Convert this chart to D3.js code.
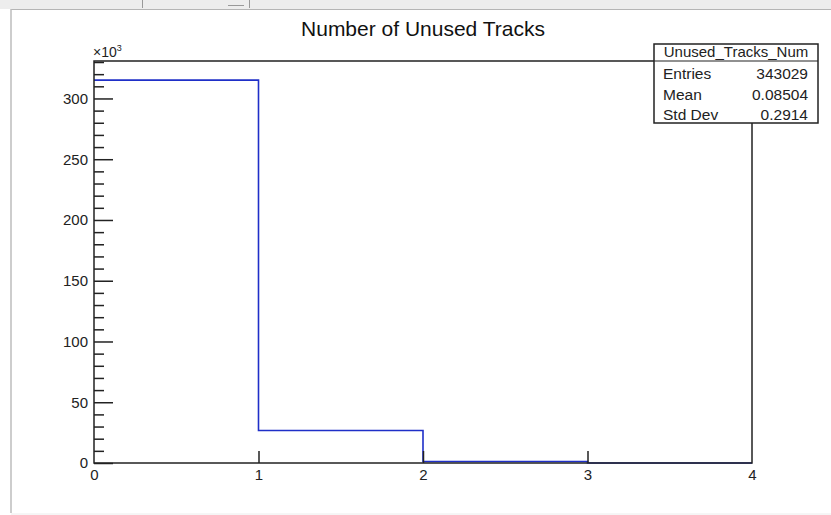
<!DOCTYPE html>
<html>
<head>
<meta charset="utf-8">
<script src="https://cdn.jsdelivr.net/npm/d3@7"></script>
<style>
  html, body { margin: 0; padding: 0; background: #fff; }
  svg { display: block; font-family: "Liberation Sans", Arial, Helvetica, sans-serif; }
</style>
</head>
<body>
<svg id="chart" width="831" height="515"></svg>
<script>
// ---- data ----
const title = "Number of Unused Tracks";
const binEdges = [0, 1, 2, 3, 4];
const binCounts = [315076, 26735, 1218, 0];
const xTickValues = [0, 1, 2, 3, 4];
const yMajorTicks = [0, 50000, 100000, 150000, 200000, 250000, 300000];
const yMinorStep = 10000;
const statName = "Unused_Tracks_Num";
const statLabels = ["Entries", "Mean", "Std Dev"];
const statValues = ["343029", "0.08504", "0.2914"];

// ---- layout ----
const svg = d3.select("#chart");
const frame = { left: 94, right: 752, top: 61, bottom: 463 };
const yMax = d3.max(binCounts) * 1.05;

const x = d3.scaleLinear().domain([binEdges[0], binEdges[binEdges.length - 1]]).range([frame.left, frame.right]);
const y = d3.scaleLinear().domain([0, yMax]).range([frame.bottom, frame.top]);

// window chrome
svg.append("rect").attr("x", 0).attr("y", 0).attr("width", 831).attr("height", 9).attr("fill", "#ededed");
svg.append("line").attr("x1", 11).attr("x2", 831).attr("y1", 9.5).attr("y2", 9.5).attr("stroke", "#b5b5b5");
svg.append("line").attr("x1", 142.5).attr("x2", 142.5).attr("y1", 0).attr("y2", 8).attr("stroke", "#999");
svg.append("line").attr("x1", 228).attr("x2", 244).attr("y1", 5.5).attr("y2", 5.5).attr("stroke", "#999");
svg.append("line").attr("x1", 249.5).attr("x2", 249.5).attr("y1", 0).attr("y2", 8).attr("stroke", "#999");
svg.append("line").attr("x1", 11).attr("x2", 11).attr("y1", 9).attr("y2", 513).attr("stroke", "#bdbdbd").attr("stroke-width", 1.5);
svg.append("line").attr("x1", 11).attr("x2", 831).attr("y1", 514).attr("y2", 514).attr("stroke", "#ececec");

// title
svg.append("text").attr("x", (frame.left + frame.right) / 2).attr("y", 36)
  .attr("text-anchor", "middle").attr("font-size", 21).attr("fill", "#111").text(title);

// histogram step path
const path = d3.path();
path.moveTo(x(binEdges[0]), y(binCounts[0]));
for (let i = 0; i < binCounts.length; i++) {
  if (i > 0) path.lineTo(x(binEdges[i]), y(binCounts[i]));
  path.lineTo(x(binEdges[i + 1]), y(binCounts[i]));
}
svg.append("path").attr("d", path.toString()).attr("fill", "none")
  .attr("stroke", "#1f2fc8").attr("stroke-width", 1.6);

// y axis (ticks inside frame, ROOT style)
const yMinorTicks = d3.range(0, yMax, yMinorStep).filter(v => v % 50000 !== 0);
const yAxisMinor = d3.axisRight(y).tickValues(yMinorTicks).tickSize(10).tickFormat("");
const yAxisMajor = d3.axisRight(y).tickValues(yMajorTicks).tickSize(19).tickFormat("");
[yAxisMinor, yAxisMajor].forEach(ax => {
  const g = svg.append("g").attr("transform", `translate(${frame.left},0)`).call(ax);
  g.select(".domain").remove();
  g.selectAll("line").attr("stroke", "#222").attr("stroke-width", 1.5);
});
const yLab = d3.axisLeft(y).tickValues(yMajorTicks).tickSize(0).tickPadding(6)
  .tickFormat(d => d3.format("d")(d / 1000));
const gyl = svg.append("g").attr("transform", `translate(${frame.left},0)`).call(yLab);
gyl.select(".domain").remove();
gyl.selectAll("text").attr("font-size", 15).attr("fill", "#222").attr("font-family", "Liberation Sans, Arial, sans-serif");

// x10^3
const mult = svg.append("text").attr("x", frame.left - 1).attr("y", 57).attr("font-size", 14).attr("fill", "#222");
mult.append("tspan").text("\u00d710");
mult.append("tspan").attr("dy", -6).attr("font-size", 9).text("3");

// x axis
const xTickInner = xTickValues.filter(v => v > binEdges[0] && v < binEdges[binEdges.length - 1]);
const xAxisTicks = d3.axisTop(x).tickValues(xTickInner).tickSize(12).tickFormat("");
const gxt = svg.append("g").attr("transform", `translate(0,${frame.bottom})`).call(xAxisTicks);
gxt.select(".domain").remove();
gxt.selectAll("line").attr("stroke", "#222").attr("stroke-width", 1.5);
const xLab = d3.axisBottom(x).tickValues(xTickValues).tickSize(0).tickPadding(6).tickFormat(d3.format("d"));
const gxl = svg.append("g").attr("transform", `translate(0,${frame.bottom})`).call(xLab);
gxl.select(".domain").remove();
gxl.selectAll("text").attr("font-size", 15).attr("fill", "#222").attr("font-family", "Liberation Sans, Arial, sans-serif");

// frame
svg.append("rect").attr("x", frame.left).attr("y", frame.top)
  .attr("width", frame.right - frame.left).attr("height", frame.bottom - frame.top)
  .attr("fill", "none").attr("stroke", "#222").attr("stroke-width", 1.5);

// stat box
const sb = { left: 654, right: 818, top: 44, header: 61, bottom: 123 };
const sg = svg.append("g");
sg.append("rect").attr("x", sb.left).attr("y", sb.top).attr("width", sb.right - sb.left)
  .attr("height", sb.bottom - sb.top).attr("fill", "#fff").attr("stroke", "#222").attr("stroke-width", 1.5);
sg.append("line").attr("x1", sb.left).attr("x2", sb.right).attr("y1", sb.header).attr("y2", sb.header)
  .attr("stroke", "#222").attr("stroke-width", 1.2);
sg.append("text").attr("x", (sb.left + sb.right) / 2).attr("y", 57).attr("text-anchor", "middle")
  .attr("font-size", 15).attr("fill", "#222").text(statName);
const rowY = d3.scalePoint().domain(statLabels).range([79, 120]);
statLabels.forEach((lab, i) => {
  sg.append("text").attr("x", sb.left + 9).attr("y", rowY(lab)).attr("font-size", 15.5).attr("fill", "#222").text(lab);
  sg.append("text").attr("x", sb.right - 10).attr("y", rowY(lab)).attr("text-anchor", "end")
    .attr("font-size", 15.5).attr("fill", "#222").text(statValues[i]);
});
</script>
</body>
</html>
